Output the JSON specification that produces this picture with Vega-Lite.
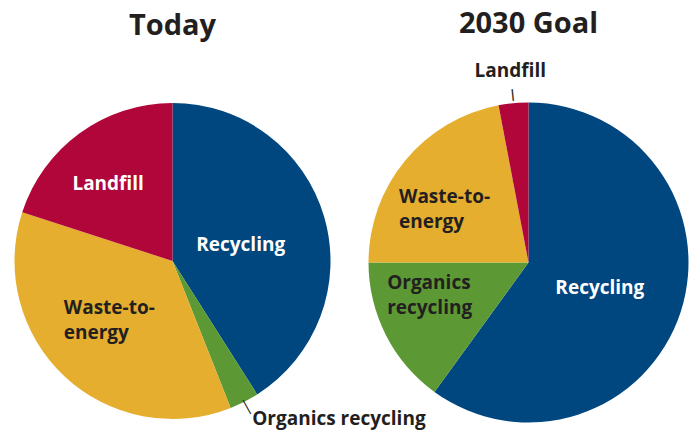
{
  "$schema": "https://vega.github.io/schema/vega-lite/v6.json",
  "padding": {"left": 0, "top": 10, "right": 0, "bottom": 0},
  "bounds": "flush",
  "spacing": 11,
  "config": {
    "view": {"stroke": null},
    "font": "Open Sans",
    "title": {"font": "Open Sans", "fontSize": 29, "fontWeight": "bold", "color": "#231f20", "anchor": "middle"},
    "text": {"font": "Open Sans", "fontSize": 19, "fontWeight": "bold", "baseline": "middle", "lineBreak": "\n", "lineHeight": 25}
  },
  "datasets": {
    "today": [
      {"cat": "Recycling", "value": 41, "i": 1, "label": "Recycling"},
      {"cat": "Organics recycling", "value": 3, "i": 2, "label": "Organics recycling"},
      {"cat": "Waste-to-energy", "value": 36, "i": 3, "label": "Waste-to-\nenergy"},
      {"cat": "Landfill", "value": 20, "i": 4, "label": "Landfill"}
    ],
    "goal": [
      {"cat": "Recycling", "value": 60, "i": 1, "label": "Recycling"},
      {"cat": "Organics recycling", "value": 15, "i": 2, "label": "Organics\nrecycling"},
      {"cat": "Waste-to-energy", "value": 22, "i": 3, "label": "Waste-to-\nenergy"},
      {"cat": "Landfill", "value": 3, "i": 4, "label": "Landfill"}
    ]
  },
  "hconcat": [
    {
      "title": {"text": "Today", "offset": 62},
      "width": 345,
      "height": 300,
      "data": {"name": "today"},
      "encoding": {
        "theta": {"field": "value", "type": "quantitative", "stack": true},
        "order": {"field": "i", "type": "quantitative"},
        "detail": {"field": "cat", "type": "nominal"}
      },
      "layer": [
        {
          "mark": {"type": "arc", "outerRadius": 158},
          "encoding": {
            "color": {
              "field": "cat", "type": "nominal", "legend": null,
              "scale": {
                "domain": ["Recycling", "Organics recycling", "Waste-to-energy", "Landfill"],
                "range": ["#00467f", "#5c9934", "#e5ae2e", "#b0063a"]
              }
            }
          }
        },
        {
          "mark": {"type": "text", "radius": 71, "dy": 4, "color": "#ffffff"},
          "encoding": {"text": {"condition": {"test": "datum.cat === 'Recycling'", "field": "label"}, "value": ""}}
        },
        {
          "mark": {"type": "text", "radius": 101, "dx": -5, "dy": 5, "color": "#ffffff"},
          "encoding": {"text": {"condition": {"test": "datum.cat === 'Landfill'", "field": "label"}, "value": ""}}
        },
        {
          "mark": {"type": "text", "radius": 77, "dx": -56, "dy": -9, "align": "left", "color": "#231f20"},
          "encoding": {"text": {"condition": {"test": "datum.cat === 'Waste-to-energy'", "field": "label"}, "value": ""}}
        },
        {
          "mark": {"type": "text", "radius": 180, "dx": -2, "dy": -2, "align": "left", "color": "#231f20"},
          "encoding": {"text": {"condition": {"test": "datum.cat === 'Organics recycling'", "field": "label"}, "value": ""}}
        },
        {
          "mark": {"type": "text", "radius": 163, "angle": -29, "fontSize": 16, "fontWeight": "normal", "color": "#231f20"},
          "encoding": {"text": {"condition": {"test": "datum.cat === 'Organics recycling'", "value": "|"}, "value": ""}}
        }
      ]
    },
    {
      "title": {"text": "2030 Goal", "offset": 23},
      "width": 345,
      "height": 303,
      "data": {"name": "goal"},
      "encoding": {
        "theta": {"field": "value", "type": "quantitative", "stack": true},
        "order": {"field": "i", "type": "quantitative"},
        "detail": {"field": "cat", "type": "nominal"}
      },
      "layer": [
        {
          "mark": {"type": "arc", "outerRadius": 160},
          "encoding": {
            "color": {
              "field": "cat", "type": "nominal", "legend": null,
              "scale": {
                "domain": ["Recycling", "Organics recycling", "Waste-to-energy", "Landfill"],
                "range": ["#00467f", "#5c9934", "#e5ae2e", "#b0063a"]
              }
            }
          }
        },
        {
          "mark": {"type": "text", "radius": 75, "dy": 2, "color": "#ffffff"},
          "encoding": {"text": {"condition": {"test": "datum.cat === 'Recycling'", "field": "label"}, "value": ""}}
        },
        {
          "mark": {"type": "text", "radius": 85, "dx": -64, "dy": -11, "align": "left", "color": "#231f20"},
          "encoding": {"text": {"condition": {"test": "datum.cat === 'Waste-to-energy'", "field": "label"}, "value": ""}}
        },
        {
          "mark": {"type": "text", "radius": 70, "dx": -79, "dy": -11, "align": "left", "color": "#231f20"},
          "encoding": {"text": {"condition": {"test": "datum.cat === 'Organics recycling'", "field": "label"}, "value": ""}}
        },
        {
          "mark": {"type": "text", "radius": 193, "dy": 1, "color": "#231f20"},
          "encoding": {"text": {"condition": {"test": "datum.cat === 'Landfill'", "field": "label"}, "value": ""}}
        },
        {
          "mark": {"type": "text", "radius": 169, "angle": -6, "fontSize": 12, "fontWeight": "bold", "color": "#231f20"},
          "encoding": {"text": {"condition": {"test": "datum.cat === 'Landfill'", "value": "|"}, "value": ""}}
        }
      ]
    }
  ]
}
